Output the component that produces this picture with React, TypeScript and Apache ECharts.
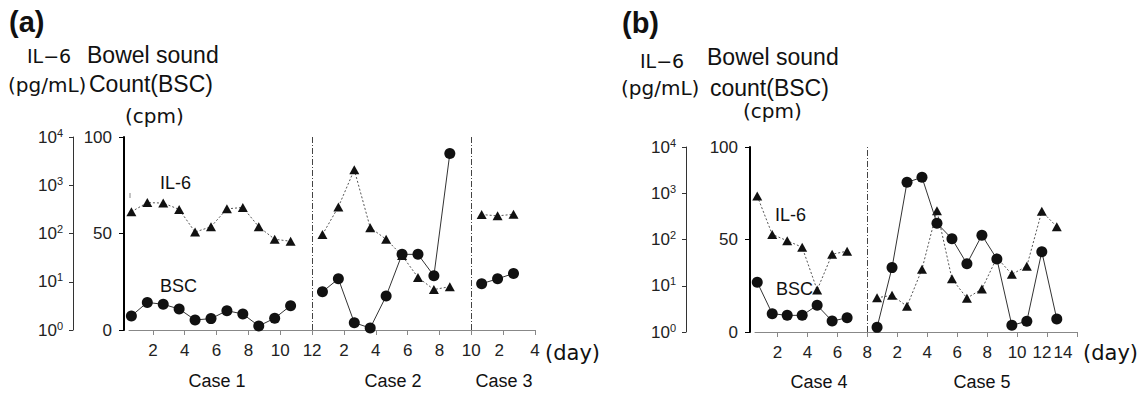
import React, { useEffect, useRef } from "react";
import * as echarts from "echarts";

// ---------- data: panel (a) ----------
const case1Il6 = [282, 437, 427, 316, 107, 138, 324, 347, 138, 76, 69];
const case1Bsc = [7.3, 14.3, 13.3, 10.9, 5.2, 5.9, 10.0, 8.3, 2.1, 6.1, 12.6];
const case2Il6 = [95, 355, 2100, 132, 76, 35, 12.3, 6.9, 7.9];
const case2Bsc = [19.8, 26.5, 3.8, 1.0, 17.6, 39.2, 39.2, 28.1, 91.4];
const case3Il6 = [247, 232, 250];
const case3Bsc = [24.0, 26.5, 29.3];

// ---------- data: panel (b) ----------
const case4Il6 = [871, 129, 94, 68, 8.1, 48, 56];
const case4Bsc = [26.9, 9.9, 9.0, 9.0, 14.4, 5.9, 7.7];
const case5Il6 = [5.5, 6.2, 3.6, 22.8, 420, 14.1, 5.4, 8.5, 40.5, 17.7, 26.5, 407, 189];
const case5Bsc = [2.5, 34.8, 80.9, 83.6, 58.8, 50.4, 36.9, 52.3, 39.5, 3.6, 5.8, 43.4, 7.0];

// ---------- axes / categories ----------
const caseNamesA = ["Case 1", "Case 2", "Case 3"];
const caseNamesB = ["Case 4", "Case 5"];
const caseDaySpanA = [12, 10, 4];
const caseDaySpanB = [8, 14];
const bscTicks = [0, 50, 100];
const il6Ticks = [1, 10, 100, 1000, 10000];

// ---------- layout ----------
const DAY_SHIFT = -0.35;
const SANS = "Liberation Sans";
const DV = "DejaVu Sans";
const caseLabelXA = [217, 393, 504];
const caseLabelXB = [819, 982];
// left nudges (px) of some day labels, as in the original figure
const labelNudgeA: Record<number, number> = { 24: 4 };
const labelNudgeB: Record<number, number> = { 20: 5, 22: 14 };

function starts(spans: number[]) {
  const out: number[] = [];
  let acc = 0;
  for (const s of spans) {
    out.push(acc);
    acc += s;
  }
  return out;
}
function evenTicks(total: number) {
  const out: number[] = [];
  for (let v = 2; v <= total; v += 2) out.push(v);
  return out;
}
function dayFormatter(spans: number[], nudge: Record<number, number>) {
  const st = starts(spans);
  return (v: number) => {
    for (let i = 0; i < spans.length; i++) {
      if (v <= st[i] + spans[i] + 1e-6) {
        const t = String(Math.round(v - st[i]));
        const n = nudge[Math.round(v)];
        return n ? `{n${n}|${t}}` : t;
      }
    }
    return "";
  };
}
function nudgeRich(nudge: Record<number, number>) {
  const rich: any = {};
  Object.values(nudge).forEach((n) => {
    rich["n" + n] = { fontSize: 17, fontFamily: SANS, color: "#222", padding: [0, n * 2, 0, 0] };
  });
  return rich;
}

function makeXAxis(gridIndex: number, spans: number[], nudge: Record<number, number>) {
  const total = spans.reduce((a, b) => a + b, 0);
  const ticks = evenTicks(total);
  return {
    type: "value",
    gridIndex,
    min: 0.5,
    max: total,
    axisLine: { show: true, lineStyle: { color: "#888", width: 1 } },
    axisTick: { show: true, customValues: ticks, length: 5, inside: false, lineStyle: { color: "#888", width: 1 } },
    axisLabel: {
      customValues: ticks,
      formatter: dayFormatter(spans, nudge),
      rich: nudgeRich(nudge),
      fontSize: 17,
      fontFamily: SANS,
      color: "#222",
      margin: 12,
    },
    splitLine: { show: false },
  };
}

function makeBscAxis(gridIndex: number) {
  return {
    type: "value",
    gridIndex,
    position: "left",
    offset: 5,
    min: 0,
    max: 100,
    interval: 50,
    axisLine: { show: true, lineStyle: { color: "#000", width: 2 } },
    axisTick: { show: true, length: 5, lineStyle: { color: "#000", width: 1 } },
    axisLabel: { fontSize: 17, fontFamily: SANS, color: "#222", margin: 12, customValues: bscTicks },
    splitLine: { show: false },
  };
}

function makeIl6Axis(gridIndex: number, offset: number) {
  return {
    type: "log",
    logBase: 10,
    gridIndex,
    position: "left",
    offset,
    min: 1,
    max: 10000,
    axisLine: { show: true, lineStyle: { color: "#333", width: 1 } },
    axisTick: { show: true, length: 4, customValues: il6Ticks, lineStyle: { color: "#333", width: 1 } },
    axisLabel: {
      customValues: il6Ticks,
      margin: 10,
      formatter: (v: number) => `{b|10}{s|${Math.round(Math.log10(v))}}`,
      rich: {
        b: { fontSize: 17, fontFamily: SANS, color: "#222", lineHeight: 20 },
        s: { fontSize: 11, fontFamily: SANS, color: "#222", lineHeight: 11, verticalAlign: "top" },
      },
    },
    splitLine: { show: false },
  };
}

function series(
  name: string,
  vals: number[],
  caseStart: number,
  xAxisIndex: number,
  yAxisIndex: number,
  kind: "il6" | "bsc"
) {
  return {
    name,
    type: "line",
    xAxisIndex,
    yAxisIndex,
    data: vals.map((v, i) => [caseStart + i + 1 + DAY_SHIFT, v]),
    symbol: kind === "bsc" ? "circle" : "triangle",
    symbolSize: kind === "bsc" ? 11 : [10, 9],
    itemStyle: { color: "#111" },
    lineStyle:
      kind === "bsc"
        ? { color: "#333", width: 1, type: "solid" }
        : { color: "#555", width: 1, type: [2, 2] },
    z: kind === "bsc" ? 3 : 2,
  };
}

function separators(name: string, xAxisIndex: number, yAxisIndex: number, positions: number[]) {
  return {
    name,
    type: "line",
    xAxisIndex,
    yAxisIndex,
    data: [],
    markLine: {
      silent: true,
      symbol: "none",
      label: { show: false },
      lineStyle: { color: "#444", width: 1, type: [6, 2, 1, 2] },
      data: positions.map((p) => ({ xAxis: p })),
    },
  };
}

function txt(text: string, x: number, y: number, size: number, family: string, align = "left", weight = "normal") {
  return {
    type: "text",
    x,
    y,
    silent: true,
    style: {
      text,
      fill: "#111",
      fontSize: size,
      fontFamily: family,
      fontWeight: weight,
      align,
      verticalAlign: "middle",
      textAlign: align,
      textVerticalAlign: "middle",
    },
  };
}

export default function App() {
  const ref = useRef<HTMLDivElement>(null);

  useEffect(() => {
    if (!ref.current) return;
    const chart = echarts.init(ref.current, undefined, { renderer: "svg" });
    const stA = starts(caseDaySpanA);
    const stB = starts(caseDaySpanB);

    const option: any = {
      animation: false,
      backgroundColor: "#fff",
      grid: [
        { left: 129, top: 137, width: 406, height: 193 },
        { left: 755, top: 147, width: 322, height: 185 },
      ],
      xAxis: [makeXAxis(0, caseDaySpanA, labelNudgeA), makeXAxis(1, caseDaySpanB, labelNudgeB)],
      yAxis: [makeBscAxis(0), makeIl6Axis(0, 56), makeBscAxis(1), makeIl6Axis(1, 69)],
      series: [
        series("Case 1 IL-6", case1Il6, stA[0], 0, 1, "il6"),
        series("Case 1 BSC", case1Bsc, stA[0], 0, 0, "bsc"),
        series("Case 2 IL-6", case2Il6, stA[1], 0, 1, "il6"),
        series("Case 2 BSC", case2Bsc, stA[1], 0, 0, "bsc"),
        series("Case 3 IL-6", case3Il6, stA[2], 0, 1, "il6"),
        series("Case 3 BSC", case3Bsc, stA[2], 0, 0, "bsc"),
        separators("sepA", 0, 0, [stA[1], stA[2]]),
        series("Case 4 IL-6", case4Il6, stB[0], 1, 3, "il6"),
        series("Case 4 BSC", case4Bsc, stB[0], 1, 2, "bsc"),
        series("Case 5 IL-6", case5Il6, stB[1], 1, 3, "il6"),
        series("Case 5 BSC", case5Bsc, stB[1], 1, 2, "bsc"),
        separators("sepB", 1, 2, [stB[1]]),
      ],
      graphic: [
        // panel (a) header
        txt("(a)", 9, 22, 29, SANS, "left", "bold"),
        txt("IL\u22126", 27, 56, 19, DV),
        txt("Bowel sound", 87, 55, 23, SANS),
        txt("(pg/mL)", 8, 85, 20, DV),
        txt("Count(BSC)", 89, 84, 23, SANS),
        txt("(cpm)", 125, 116, 20, DV),
        txt("IL-6", 160, 183, 18, SANS),
        txt("BSC", 160, 286, 18, SANS),
        txt("(day)", 545, 353, 21, DV),
        ...caseNamesA.map((n, i) => txt(n, caseLabelXA[i], 381, 18, SANS, "center")),
        { type: "line", silent: true, shape: { x1: 130, y1: 193, x2: 130, y2: 198 }, style: { stroke: "#888", lineWidth: 1 } },
        // panel (b) header
        txt("(b)", 622, 23, 29, SANS, "left", "bold"),
        txt("IL\u22126", 640, 61, 19, DV),
        txt("Bowel sound", 707, 57, 23, SANS),
        txt("(pg/mL)", 621, 88, 20, DV),
        txt("count(BSC)", 710, 88, 23, SANS),
        txt("(cpm)", 743, 111, 20, DV),
        txt("IL-6", 775, 215, 18, SANS),
        txt("BSC", 776, 289, 18, SANS),
        txt("(day)", 1083, 353, 21, DV),
        ...caseNamesB.map((n, i) => txt(n, caseLabelXB[i], 382, 18, SANS, "center")),
      ],
    };

    chart.setOption(option);
    return () => chart.dispose();
  }, []);

  return (
    <div
      ref={ref}
      style={{ position: "fixed", left: 0, top: 0, width: 1148, height: 398, background: "#fff" }}
    />
  );
}
